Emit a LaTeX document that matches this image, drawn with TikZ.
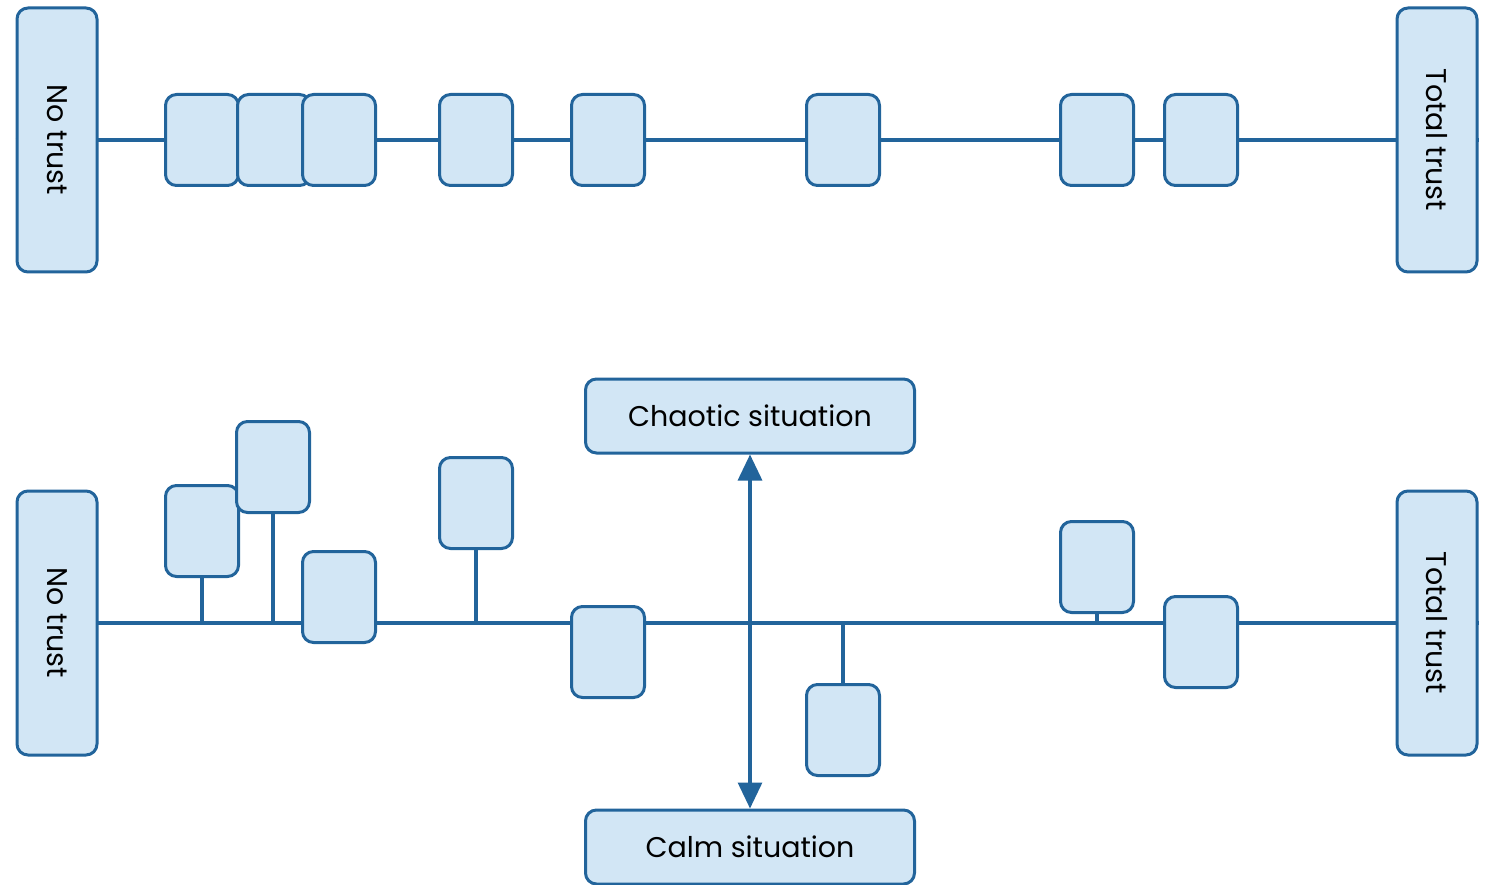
\documentclass[tikz,border=0pt]{standalone}
\usepackage{fontspec}
\setmainfont{Poppins}
\usetikzlibrary{arrows.meta,backgrounds}

\definecolor{trustline}{RGB}{34,100,155}
\definecolor{trustfill}{RGB}{210,230,245}

\begin{document}
\begin{tikzpicture} [
        x=1pt, y=-1pt,
        card/.style={
        draw=trustline, fill=trustfill,
        line width=3pt,
        rounded corners=11pt,
        inner sep=0pt,
        font=\fontsize{28.5}{33}\selectfont
        },
        pole/.style={card, rotate=-90, minimum width=264pt, minimum height=80pt},
        item/.style={card, minimum width=73pt, minimum height=91pt},
        state/.style={card, minimum width=329pt, minimum height=74pt},
        rail/.style={draw=trustline, line width=3.2pt}
    ]

    \useasboundingbox (0,0) rectangle (1485,885);

    % upper scale: all items sit on the line
    \node[pole] (nt1) at (57,140) {No trust};
    \node[pole] (tt1) at (1437,140) {Total trust};
    \foreach \x [count=\i] in {202,274,339,476,608,843,1097,1201} {
        \node[item] (a\i) at (\x,140) {};
    }

    % lower scale: items pulled off the line
    \node[pole] (nt2) at (57,623) {No trust};
    \node[pole] (tt2) at (1437,623) {Total trust};
    \node[item] (b1) at (202,531) {};
    \node[item] (b2) at (273,467) {};
    \node[item] (b3) at (339,597) {};
    \node[item] (b4) at (476,503) {};
    \node[item] (b5) at (608,652) {};
    \node[item] (b6) at (843,730) {};
    \node[item] (b7) at (1097,567) {};
    \node[item] (b8) at (1201,642) {};

    \node[state] (chaos) at (750,416) {Chaotic situation};
    \node[state] (calm) at (750,847) {Calm situation};

    \begin{pgfonlayer}{background}
        \draw[rail] (nt1.south) -- (tt1.north);
        \draw[rail] (nt2.south) -- (tt2.north);
        \foreach \b in {b1,b2,b4,b7} {
            \draw[rail] (\b.south) -- (\b.south |- nt2.south);
        }
        \draw[rail] (b6.north) -- (b6.north |- nt2.south);
    \end{pgfonlayer}

    \draw[rail, {Triangle[length=26pt,width=24pt]}-{Triangle[length=26pt,width=24pt]}]
        (chaos.south) -- (calm.north);

    \end{tikzpicture}
\end{document}
